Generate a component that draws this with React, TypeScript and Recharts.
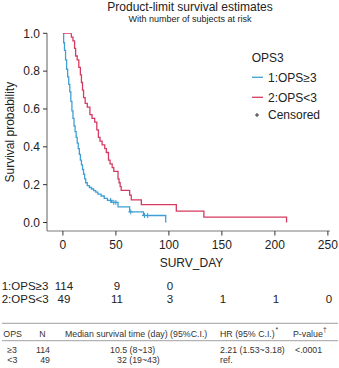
import React from 'react';
import { ComposedChart, Line, Scatter, XAxis, YAxis } from 'recharts';

const FONT = '"Liberation Sans", Arial, Helvetica, sans-serif';
const BLUE = '#3f9fd4';
const RED = '#d53a60';
const TEXT = '#222';

// Kaplan-Meier step points, group 1 (OPS >= 3)
const highTimes = [0, 0.7, 1.5, 2.5, 3.5, 4.5, 5.5, 6.5, 7.5, 8.5, 9.5, 10.5, 11.5, 12.5, 13.5, 14.5, 15.5, 16.5, 17.5, 18.5, 19.5, 20.5, 21.5, 23, 25, 27, 29, 31, 33, 36, 39, 42, 46, 52, 63, 76, 97];
const highSurv = [1, 0.95, 0.91, 0.86, 0.81, 0.77, 0.73, 0.69, 0.64, 0.59, 0.55, 0.51, 0.48, 0.45, 0.42, 0.39, 0.36, 0.33, 0.305, 0.28, 0.255, 0.23, 0.21, 0.195, 0.185, 0.177, 0.168, 0.16, 0.15, 0.14, 0.127, 0.117, 0.106, 0.082, 0.056, 0.037, 0];
const highCensored = [45, 48, 50, 64, 77, 80];

// Kaplan-Meier step points, group 2 (OPS < 3)
const lowTimes = [0, 8, 9.5, 11, 12, 13.5, 15, 16.5, 17.5, 18.5, 19.5, 21, 23, 25.5, 27.5, 30, 32, 33.5, 35, 37, 39.5, 41, 43, 44.5, 46.5, 48, 52, 53, 54, 55, 63, 64.5, 74, 107, 133, 211];
const lowSurv = [1, 0.98, 0.96, 0.92, 0.88, 0.86, 0.82, 0.78, 0.74, 0.7, 0.66, 0.63, 0.61, 0.57, 0.55, 0.53, 0.49, 0.45, 0.43, 0.41, 0.39, 0.37, 0.33, 0.31, 0.29, 0.27, 0.23, 0.21, 0.19, 0.17, 0.145, 0.12, 0.094, 0.06, 0.028, 0];

// Numbers at risk
const riskTimes = [0, 50, 100, 150, 200, 250];
const riskHigh: (number | null)[] = [114, 9, 0, null, null, null];
const riskLow = [49, 11, 3, 1, 1, 0];
const groupLabels = ['1:OPS\u22653', '2:OPS<3'];

const yTicks = [0, 0.2, 0.4, 0.6, 0.8, 1.0];

// Summary table
const tableHeader = ['OPS', 'N', 'Median survival time (day) (95%C.I.)', 'HR (95% C.I.)', 'P-value'];
const tableRow1 = ['\u22653', '114', '10.5 (8~13)', '2.21 (1.53~3.18)', '<.0001'];
const tableRow2 = ['<3', '49', '32 (19~43)', 'ref.', ''];

const toPoints = (ts: number[], ss: number[]) => ts.map((t, i) => ({ t, s: ss[i] }));
const survivalAt = (ts: number[], ss: number[], t: number) => {
  let v = ss[0];
  ts.forEach((tt, i) => {
    if (tt <= t) v = ss[i];
  });
  return v;
};

const highData = toPoints(highTimes, highSurv);
const lowData = toPoints(lowTimes, lowSurv);
const highCensorData = highCensored.map((t) => ({ t, s: survivalAt(highTimes, highSurv, t) }));

const XTick = (props: any) => {
  const { x, y, payload } = props;
  const i = riskTimes.indexOf(payload.value);
  const h = i >= 0 ? riskHigh[i] : null;
  const l = i >= 0 ? riskLow[i] : null;
  return (
    <g fontFamily={FONT}>
      <text x={x} y={y + 11} textAnchor="middle" fontSize={12} fill={TEXT}>
        {payload.value}
      </text>
      {h !== null && (
        <text x={x + 1} y={y + 52.6} textAnchor="middle" fontSize={11.5} fill={TEXT}>
          {h}
        </text>
      )}
      {l !== null && (
        <text x={x + 1} y={y + 65.6} textAnchor="middle" fontSize={11.5} fill={TEXT}>
          {l}
        </text>
      )}
    </g>
  );
};

const Plus = (color: string) => (props: any) => {
  const { cx, cy } = props;
  return <path d={`M${cx - 2.5},${cy}h5M${cx},${cy - 2.5}v5`} stroke={color} strokeWidth={1} fill="none" />;
};

const YLabel = (props: any) => {
  const { viewBox } = props;
  const cx = 10;
  const cy = viewBox.y + viewBox.height / 2;
  return (
    <text
      x={cx}
      y={cy}
      transform={`rotate(-90, ${cx}, ${cy})`}
      textAnchor="middle"
      dominantBaseline="central"
      fontFamily={FONT}
      fontSize={12}
      fill={TEXT}
    >
      Survival probability
    </text>
  );
};

const XLabel = (props: any) => {
  const { viewBox } = props;
  return (
    <text
      x={viewBox.x + viewBox.width / 2 + 3}
      y={266.7}
      textAnchor="middle"
      fontFamily={FONT}
      fontSize={12}
      fill={TEXT}
    >
      SURV_DAY
    </text>
  );
};

const tableCols = [3.3, 39.3, 65, 220, 293];

export default function App() {
  return (
    <div style={{ position: 'absolute', left: 0, top: 0, width: 339, height: 368, background: '#fff' }}>
      <ComposedChart
        width={339}
        height={310}
        margin={{ top: 33.3, right: 9, bottom: 0, left: 0 }}
        style={{ position: 'absolute', left: 0, top: 0 }}
      >
        <XAxis
          type="number"
          dataKey="t"
          domain={[-15, 252]}
          ticks={riskTimes}
          height={310 - 231}
          axisLine={{ stroke: '#7a7a7a', strokeWidth: 1.2 }}
          tickLine={{ stroke: '#333' }}
          tickSize={4.5}
          tickMargin={2}
          tick={<XTick />}
          interval={0}
          allowDataOverflow
          label={<XLabel />}
        />
        <YAxis
          type="number"
          dataKey="s"
          domain={[-0.045, 1.0]}
          ticks={yTicks}
          width={47}
          axisLine={{ stroke: '#7a7a7a', strokeWidth: 1.2 }}
          tickLine={{ stroke: '#333' }}
          tickSize={4}
          tickMargin={3}
          tick={{ fontSize: 12, fill: TEXT, fontFamily: FONT }}
          tickFormatter={(v: number) => v.toFixed(1)}
          interval={0}
          allowDataOverflow
          label={<YLabel />}
        />
        <Line
          data={highData}
          dataKey="s"
          type="stepAfter"
          stroke={BLUE}
          strokeWidth={1.3}
          dot={false}
          activeDot={false}
          isAnimationActive={false}
        />
        <Line
          data={lowData}
          dataKey="s"
          type="stepAfter"
          stroke={RED}
          strokeWidth={1.3}
          dot={false}
          activeDot={false}
          isAnimationActive={false}
        />
        <Scatter data={highCensorData} dataKey="s" shape={Plus(BLUE)} isAnimationActive={false} />
      </ComposedChart>

      <svg
        width={339}
        height={368}
        style={{ position: 'absolute', left: 0, top: 0, pointerEvents: 'none' }}
        fontFamily={FONT}
      >
        <text x={190} y={11} textAnchor="middle" fontSize={12} fill={TEXT}>
          Product-limit survival estimates
        </text>
        <text x={190} y={21.5} textAnchor="middle" fontSize={9} fill={TEXT}>
          With number of subjects at risk
        </text>

        {/* legend */}
        <text x={251.7} y={61.7} fontSize={12} fill={TEXT}>OPS3</text>
        <line x1={252} x2={263} y1={77.3} y2={77.3} stroke={BLUE} strokeWidth={1.3} />
        <text x={268} y={81.7} fontSize={12} fill={TEXT}>{groupLabels[0]}</text>
        <line x1={252} x2={263} y1={97.3} y2={97.3} stroke={RED} strokeWidth={1.3} />
        <text x={268} y={101.7} fontSize={12} fill={TEXT}>{groupLabels[1]}</text>
        <path d="M255,115h4M257,113v4" stroke={TEXT} strokeWidth={0.9} />
        <text x={268} y={119.3} fontSize={12} fill={TEXT}>Censored</text>

        {/* at-risk row labels */}
        <text x={1.7} y={289.8} fontSize={11.5} fill={TEXT}>{groupLabels[0]}</text>
        <text x={1.7} y={302.8} fontSize={11.5} fill={TEXT}>{groupLabels[1]}</text>

        {/* summary table */}
        <line x1={2} x2={338} y1={323.3} y2={323.3} stroke="#888" strokeWidth={0.8} />
        <line x1={2} x2={338} y1={340.7} y2={340.7} stroke="#888" strokeWidth={0.8} />
        <g fontSize={8.8} fill="#333">
          <text x={tableCols[0]} y={336.5}>{tableHeader[0]}</text>
          <text x={tableCols[1]} y={336.5}>{tableHeader[1]}</text>
          <text x={tableCols[2]} y={336.5}>{tableHeader[2]}</text>
          <text x={tableCols[3]} y={336.5}>{tableHeader[3]}</text>
          <text x={275.5} y={332} fontSize={7}>*</text>
          <text x={tableCols[4]} y={336.5}>{tableHeader[4]}</text>
          <text x={323} y={331.5} fontSize={6.5}>{'\u2020'}</text>

          <text x={7.3} y={353}>{tableRow1[0]}</text>
          <text x={50} y={353} textAnchor="end">{tableRow1[1]}</text>
          <text x={110} y={353}>{tableRow1[2]}</text>
          <text x={220} y={353}>{tableRow1[3]}</text>
          <text x={295} y={353}>{tableRow1[4]}</text>

          <text x={7.3} y={363}>{tableRow2[0]}</text>
          <text x={50} y={363} textAnchor="end">{tableRow2[1]}</text>
          <text x={117} y={363}>{tableRow2[2]}</text>
          <text x={220} y={363}>{tableRow2[3]}</text>
          <text x={295} y={363}>{tableRow2[4]}</text>
        </g>
      </svg>
    </div>
  );
}
